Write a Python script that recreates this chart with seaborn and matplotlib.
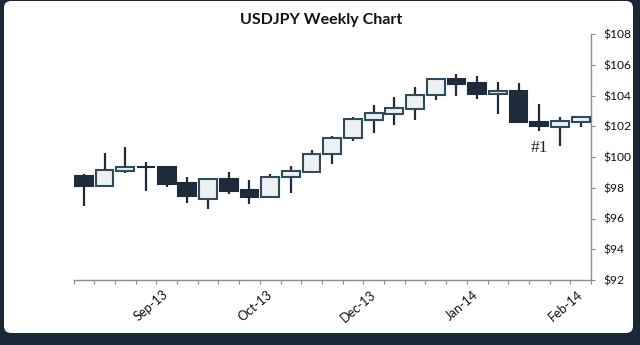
import numpy as np
import pandas as pd
import seaborn as sns
import matplotlib
matplotlib.use("Agg")
import matplotlib.pyplot as plt
from matplotlib.patches import FancyBboxPatch
from matplotlib.transforms import IdentityTransform, ScaledTranslation

# ---- data ----
opens  = [98.76, 98.13, 99.11, 99.38, 99.37, 98.29, 97.25, 98.57, 97.83, 97.42, 98.68, 99.05, 100.22,
          101.22, 102.41, 102.78, 103.14, 104.03, 105.09, 104.83, 104.08, 104.29, 102.28, 101.93, 102.28]
highs  = [98.89, 100.24, 100.63, 99.65, 99.37, 98.72, 98.63, 99.00, 98.50, 98.89, 99.41, 100.46, 101.37,
          102.62, 103.36, 103.88, 104.57, 105.09, 105.38, 105.29, 104.88, 104.79, 103.43, 102.58, 102.60]
lows   = [96.81, 98.13, 98.98, 97.79, 98.07, 96.99, 96.60, 97.59, 96.94, 97.42, 97.68, 98.94, 99.55,
          101.06, 101.54, 102.08, 102.41, 103.71, 103.99, 103.79, 102.80, 102.26, 101.71, 100.72, 101.93]
closes = [98.11, 99.13, 99.37, 99.36, 98.24, 97.46, 98.57, 97.81, 97.42, 98.70, 99.07, 100.22, 101.26,
          102.45, 102.84, 103.16, 104.03, 105.09, 104.75, 104.08, 104.29, 102.26, 102.00, 102.32, 102.60]
date_labels = ["Sep-13", "Oct-13", "Dec-13", "Jan-14", "Feb-14"]
date_label_weeks = [3.5, 8.5, 13.5, 18.5, 23.5]
y_ticks = [92, 94, 96, 98, 100, 102, 104, 106, 108]
note_text = "#1"
note_week = 22
note_price = 100.6

df = pd.DataFrame({"open": opens, "high": highs, "low": lows, "close": closes})
df["week"] = np.arange(len(df))
df["up"] = df["close"] >= df["open"]

sns.set_style("white")
plt.rcParams["font.family"] = ["Lato", "DejaVu Sans"]

DARK = "#1f2b3b"
EDGE = "#2f4b5e"
LIGHT = "#eef0f1"
GRID = "#8c8c8c"

fig = plt.figure(figsize=(6.4, 3.45), dpi=100, facecolor="#1b2636")
panel = FancyBboxPatch((4, 12), 629, 332, boxstyle="round,pad=0,rounding_size=7",
                       transform=IdentityTransform(), facecolor="white", edgecolor="none", zorder=0)
fig.add_artist(panel)

ax = fig.add_axes([73.5 / 640, 65 / 345, (591 - 73.5) / 640, (311 - 65) / 345])
ax.set_facecolor("none")

# wicks
ax.vlines(df["week"], df["low"], df["high"], color=DARK, linewidth=1.6, zorder=2)
# bodies
body_bottom = np.minimum(df["open"], df["close"])
body_height = np.abs(df["close"] - df["open"])
face = [LIGHT if u else DARK for u in df["up"]]
edge = [EDGE if u else DARK for u in df["up"]]
ax.bar(df["week"], body_height, bottom=body_bottom, width=0.86, color=face,
       edgecolor=edge, linewidth=1.5, zorder=3)

ax.set_xlim(-0.5, len(df) - 0.5)
ax.set_ylim(92, 108)

# axes styling
for s in ["left", "top"]:
    ax.spines[s].set_visible(False)
for s in ["right", "bottom"]:
    ax.spines[s].set_color(GRID)
    ax.spines[s].set_linewidth(1.0)

ax.yaxis.tick_right()
ax.set_yticks(y_ticks)
ax.set_yticklabels([f"${v}" for v in y_ticks], fontsize=8.7, color="#111111")
ax.tick_params(axis="y", right=True, left=False, direction="out", length=2.6, width=0.8,
               color=GRID, pad=6)

ax.set_xticks(np.arange(-0.5, len(df) + 0.5, 1.0), minor=True)
ax.set_xticks(date_label_weeks)
ax.set_xticklabels(date_labels, rotation=40, ha="center", fontsize=9.2, color="#111111")
ax.tick_params(axis="x", which="both", bottom=True, direction="out", length=3, width=0.8,
               color=GRID, pad=3)
off = ScaledTranslation(-5 / 100, 0, fig.dpi_scale_trans)
for lab in ax.get_xticklabels():
    lab.set_transform(lab.get_transform() + off)

ax.text(note_week, note_price, note_text, ha="center", va="center", fontsize=12.5,
        family=["Liberation Serif", "DejaVu Serif"], color="#222222")

fig.text(321 / 640, 1 - 20 / 345, "USDJPY Weekly Chart", ha="center", va="center",
         fontsize=11.5, fontweight="bold", color="#111111")

fig.savefig("out.png", dpi=100, facecolor=fig.get_facecolor())
